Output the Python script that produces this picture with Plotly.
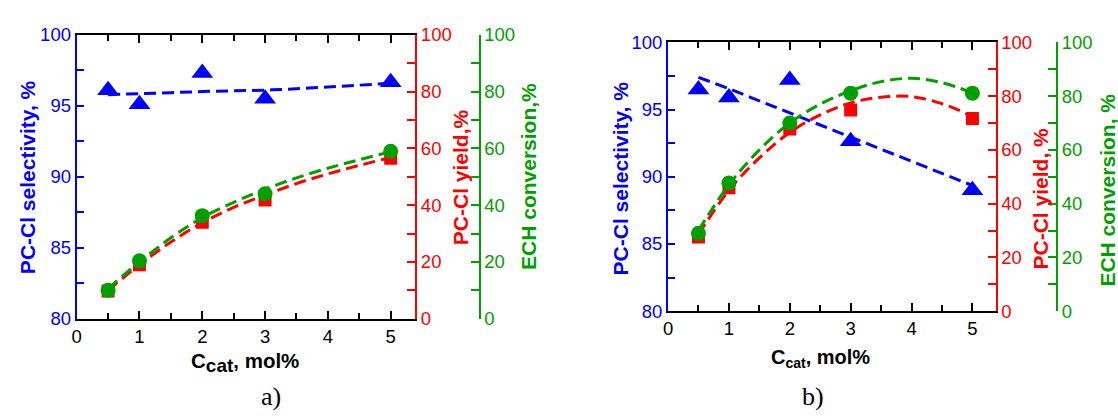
import plotly.graph_objects as go

W, H = 1118, 419

# ---------------- data ----------------
x_pts = [0.5, 1, 2, 3, 5]

# panel a
a_sel = [96.1, 95.1, 97.3, 95.5, 96.65]
a_yield = [9.8, 19.0, 34.0, 41.8, 56.5]
a_conv = [10.0, 20.4, 36.3, 44.0, 59.0]

a_fit_x = [0.5, 1, 1.5, 2, 2.5, 3, 3.5, 4, 4.5, 5]
a_sel_fit = [95.78, 95.85, 95.92, 96.0, 96.05, 96.1, 96.2, 96.32, 96.45, 96.58]
a_yield_fit = [10.0, 19.0, 27.0, 33.8, 39.2, 43.6, 47.6, 51.0, 54.0, 56.8]
a_conv_fit = [10.6, 20.0, 28.5, 35.6, 41.0, 45.6, 49.6, 53.0, 56.0, 58.8]

# panel b
b_sel = [96.5, 95.9, 97.2, 92.65, 89.0]
b_yield = [27.6, 45.9, 67.8, 74.8, 71.7]
b_conv = [29.0, 47.7, 70.0, 81.1, 81.1]

b_fit_x = [0.5, 1, 1.5, 2, 2.5, 3, 3.5, 4, 4.5, 5]
b_sel_fit = [97.4, 96.55, 95.65, 94.75, 93.85, 92.95, 92.05, 91.15, 90.25, 89.35]
b_yield_fit = [28.5, 45.0, 57.0, 66.5, 73.0, 77.5, 79.6, 79.8, 77.2, 72.5]
b_conv_fit = [30.0, 47.0, 60.0, 70.0, 77.0, 82.0, 85.4, 86.6, 85.0, 81.2]

x_ticks = [0, 1, 2, 3, 4, 5]

BLUE = "#0000ff"
RED = "#ff0000"
GREEN = "#00a000"
FONT = "Liberation Sans, Arial, sans-serif"

fig = go.Figure()

def add_panel(xa, yb, yr, yg, fx, sel_fit, yl_fit, cv_fit, sel, yl, cv):
    dash = "12px,6px"
    lw = 3
    fig.add_trace(go.Scatter(x=fx, y=sel_fit, mode="lines", line=dict(color=BLUE, width=lw, dash=dash, shape="spline"),
                             xaxis=xa, yaxis=yb, showlegend=False, hoverinfo="skip"))
    fig.add_trace(go.Scatter(x=x_pts, y=sel, mode="markers", marker=dict(symbol="triangle-up", size=19, color=BLUE),
                             xaxis=xa, yaxis=yb, showlegend=False))
    fig.add_trace(go.Scatter(x=x_pts, y=yl, mode="markers", marker=dict(symbol="square", size=13, color=RED),
                             xaxis=xa, yaxis=yr, showlegend=False))
    fig.add_trace(go.Scatter(x=fx, y=yl_fit, mode="lines", line=dict(color=RED, width=lw, dash=dash, shape="spline"),
                             xaxis=xa, yaxis=yr, showlegend=False, hoverinfo="skip"))
    fig.add_trace(go.Scatter(x=x_pts, y=cv, mode="markers", marker=dict(symbol="circle", size=15, color=GREEN),
                             xaxis=xa, yaxis=yg, showlegend=False))
    fig.add_trace(go.Scatter(x=fx, y=cv_fit, mode="lines", line=dict(color=GREEN, width=lw, dash=dash, shape="spline"),
                             xaxis=xa, yaxis=yg, showlegend=False, hoverinfo="skip"))

add_panel("x", "y", "y2", "y3", a_fit_x, a_sel_fit, a_yield_fit, a_conv_fit, a_sel, a_yield, a_conv)
add_panel("x2", "y4", "y5", "y6", b_fit_x, b_sel_fit, b_yield_fit, b_conv_fit, b_sel, b_yield, b_conv)

TICK_SIZE = 18.5
tickfont = lambda c: dict(family=FONT, size=TICK_SIZE, color=c)

def xax(domain, rng, anchor):
    return dict(domain=domain, range=rng, anchor=anchor, tickvals=x_ticks, showgrid=False, zeroline=False,
                showline=True, linecolor="black", linewidth=2, mirror="ticks",
                ticks="inside", ticklen=8, tickwidth=2, tickcolor="black",
                minor=dict(ticks="inside", dtick=0.5, ticklen=6, tickwidth=2, tickcolor="black", showgrid=False),
                tickfont=tickfont("black"), fixedrange=True)

def yblue(domain, anchor):
    return dict(domain=domain, range=[80, 100], anchor=anchor, dtick=5, showgrid=False, zeroline=False,
                showline=True, linecolor=BLUE, linewidth=2, ticks="inside", ticklen=7, tickwidth=2, tickcolor=BLUE,
                minor=dict(ticks="inside", dtick=2.5, ticklen=7, tickwidth=2, tickcolor=BLUE, showgrid=False),
                tickfont=tickfont(BLUE), fixedrange=True)

def yred(over, anchor):
    return dict(overlaying=over, side="right", anchor=anchor, range=[0, 100], dtick=20, showgrid=False, zeroline=False,
                showline=True, linecolor=RED, linewidth=2, ticks="inside", ticklen=8, tickwidth=2, tickcolor=RED,
                minor=dict(ticks="inside", dtick=10, ticklen=8, tickwidth=2, tickcolor=RED, showgrid=False),
                tickfont=tickfont(RED), fixedrange=True)

def ygreen(over, pos):
    return dict(overlaying=over, side="right", anchor="free", position=pos, range=[0, 100], dtick=20, showgrid=False,
                zeroline=False, showline=True, linecolor=GREEN, linewidth=2, ticks="inside", ticklen=8, tickwidth=2,
                tickcolor=GREEN,
                minor=dict(ticks="inside", dtick=10, ticklen=8, tickwidth=2, tickcolor=GREEN, showgrid=False),
                tickfont=tickfont(GREEN), fixedrange=True)

ya_dom = [1 - 324 / H, 1 - 25 / H]
yb_dom = [1 - 316 / H, 1 - 33 / H]

fig.update_layout(
    width=W, height=H, margin=dict(l=0, r=0, t=0, b=0), autosize=False,
    paper_bgcolor="white", plot_bgcolor="white",
    xaxis=xax([72 / W, 412 / W], [0, 5.39], "y"),
    yaxis=yblue(ya_dom, "x"),
    yaxis2=yred("y", "x"),
    yaxis3=ygreen("y", 476.7 / W),
    xaxis2=xax([666 / W, 995 / W], [0, 5.38], "y4"),
    yaxis4=yblue(yb_dom, "x2"),
    yaxis5=yred("y4", "x2"),
    yaxis6=ygreen("y4", 1056.7 / W),
)

def ann(text, x, y, color, angle=0, size=21, family=FONT):
    fig.add_annotation(text=text, x=x / W, y=1 - y / H, xref="paper", yref="paper", showarrow=False,
                       textangle=angle, font=dict(family=family, size=size, color=color),
                       xanchor="center", yanchor="middle")

# axis titles
ann("<b>PC-Cl selectivity, %</b>", 22, 175, BLUE, -90)
ann("<b>PC-Cl yield,%</b>", 457, 175, RED, -90)
ann("<b>ECH conversion,%</b>", 526, 174, GREEN, -90)
ann('<b>C<sub><span style="font-size:19px">cat</span></sub>, mol%</b>', 241, 370, "black", 0, 20.5)

ann("<b>PC-Cl selectivity, %</b>", 618, 176, BLUE, -90)
ann("<b>PC-Cl yield, %</b>", 1040, 197, RED, -90)
ann("<b>ECH conversion, %</b>", 1107, 189, GREEN, -90)
ann("<b>C<sub>cat</sub>, mol%</b>", 819, 366, "black", 0, 20)

ann("a)", 267, 406, "black", 0, 26, "Liberation Serif, Times New Roman, serif")
ann("b)", 812, 406, "black", 0, 26, "Liberation Serif, Times New Roman, serif")

fig.write_html("out.html")
